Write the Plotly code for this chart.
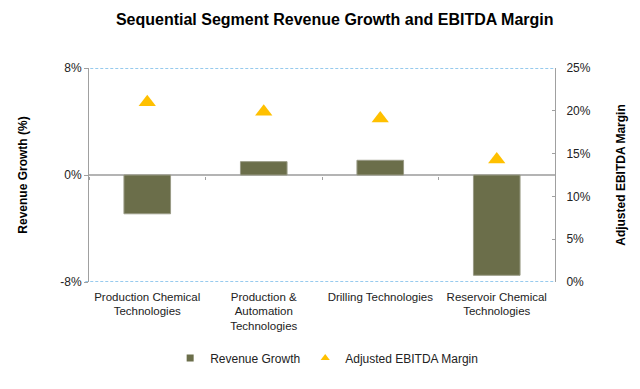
import plotly.graph_objects as go

categories = ["Production Chemical<br>Technologies", "Production &<br>Automation<br>Technologies",
              "Drilling Technologies", "Reservoir Chemical<br>Technologies"]
revenue_growth = [-2.9, 1.0, 1.1, -7.5]
ebitda_margin = [21.0, 19.9, 19.1, 14.3]
left_ticks = [-8, 0, 8]
left_labels = ["-8%", "0%", "8%"]
right_ticks = [0, 5, 10, 15, 20, 25]
right_labels = ["0%", "5%", "10%", "15%", "20%", "25%"]

BAR_COLOR = "#6b6e4a"
TRI_COLOR = "#ffc000"
FONT = "Liberation Sans, Arial, sans-serif"
fig = go.Figure()
fig.add_trace(go.Bar(x=categories, y=revenue_growth, name="Revenue Growth",
                     marker=dict(color=BAR_COLOR, line=dict(color="#9a9b86", width=1)),
                     width=0.4, xaxis="x", yaxis="y", showlegend=False))
fig.add_trace(go.Scatter(x=categories, y=ebitda_margin, name="Adjusted EBITDA Margin",
                         mode="markers", marker=dict(symbol="triangle-up", size=15, color=TRI_COLOR),
                         xaxis="x2", yaxis="y2", showlegend=False))
# legend entries
fig.add_trace(go.Scatter(x=[None], y=[None], name="Revenue Growth", mode="markers",
                         marker=dict(symbol="square", size=7, color=BAR_COLOR),
                         xaxis="x", yaxis="y"))
fig.add_trace(go.Scatter(x=[None], y=[None], name="Adjusted EBITDA Margin", mode="markers",
                         marker=dict(symbol="triangle-up", size=8, color=TRI_COLOR),
                         xaxis="x2", yaxis="y2"))

# dashed reference lines at the left-axis extremes
for yv in (left_ticks[0], left_ticks[-1]):
    fig.add_shape(type="line", xref="paper", yref="y", x0=-0.008, x1=1, y0=yv, y1=yv,
                  line=dict(color="#2e95dc", width=1, dash="3px,2px"), layer="below")

fig.update_layout(
    width=640, height=389,
    margin=dict(l=89, r=85, t=68, b=107),
    paper_bgcolor="white", plot_bgcolor="white",
    font=dict(family=FONT, size=12, color="#222"),
    title=dict(text="<b>Sequential Segment Revenue Growth and EBITDA Margin</b>",
               x=0.523, xanchor="center", y=0.949, yanchor="middle",
               font=dict(size=16, color="#000")),
    xaxis=dict(type="category", showline=False, showgrid=False, ticks="",
               tickfont=dict(size=11.5), range=[-0.5, 3.5], ticklabelstandoff=6),
    xaxis2=dict(type="category", overlaying="x", anchor="free", position=0.495,
                showticklabels=False, showgrid=False, showline=False,
                ticks="outside", ticklen=3, tickcolor="#a0a0a0", tickson="boundaries",
                range=[-0.5, 3.5]),
    yaxis=dict(range=[-8, 8], tickvals=left_ticks, ticktext=left_labels,
               showline=True, linecolor="#a0a0a0", linewidth=1,
               ticks="outside", ticklen=4, tickcolor="#a0a0a0",
               showgrid=False,
               zeroline=True, zerolinecolor="#b4b4b4", zerolinewidth=2,
               tickfont=dict(size=12),
               title=dict(text="<b>Revenue Growth (%)</b>", font=dict(size=12, color="#000"), standoff=30)),
    yaxis2=dict(range=[0, 25], tickvals=right_ticks, ticktext=right_labels,
                overlaying="y", side="right", anchor="x",
                showline=True, linecolor="#a0a0a0", linewidth=1,
                ticks="inside", ticklen=3, tickcolor="#a0a0a0",
                showgrid=False, zeroline=False, tickfont=dict(size=12), ticklabelstandoff=8,
                title=dict(text="<b>Adjusted EBITDA Margin</b>", font=dict(size=12, color="#000"), standoff=26)),
    legend=dict(orientation="h", x=0.51, xanchor="center", y=-0.355, yanchor="middle",
                font=dict(size=12), itemwidth=30, tracegroupgap=0),
    showlegend=True,
)

fig.write_html("out.html")
